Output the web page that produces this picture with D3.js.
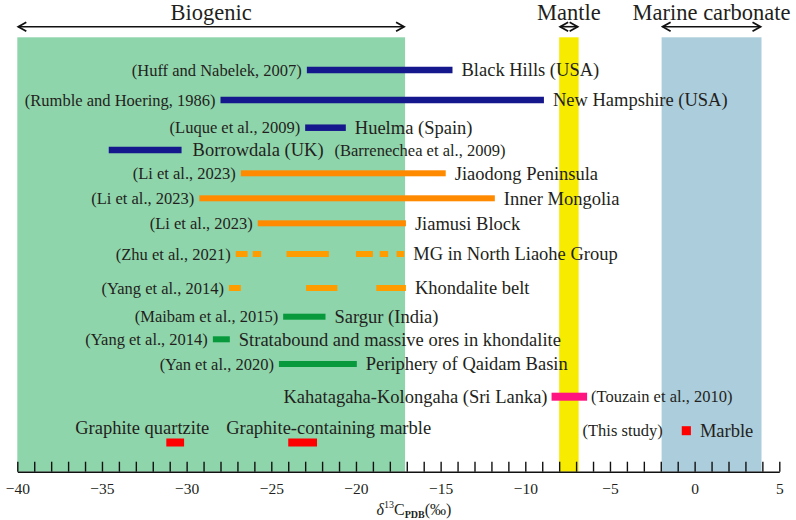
<!DOCTYPE html>
<html>
<head>
<meta charset="utf-8">
<script src="https://cdn.jsdelivr.net/npm/d3@7"></script>
<style>
  body { margin: 0; background: #fff; }
  svg { display: block; }
  svg text { font-family: "Liberation Serif", "Times New Roman", Times, "DejaVu Serif", serif; fill: #231f20; }
</style>
</head>
<body>
<div id="chart"></div>
<script>
// δ13C ranges (‰, PDB) of graphite deposits
const locations = [
    "Black Hills (USA)", "New Hampshire (USA)", "Huelma (Spain)", "Borrowdala (UK)",
    "Jiaodong Peninsula", "Inner Mongolia", "Jiamusi Block", "MG in North Liaohe Group",
    "Khondalite belt", "Sargur (India)", "Stratabound and massive ores in khondalite",
    "Periphery of Qaidam Basin", "Kahatagaha-Kolongaha (Sri Lanka)",
    "Graphite quartzite", "Graphite-containing marble", "Marble"
];
const citations = [
    "(Huff and Nabelek, 2007)", "(Rumble and Hoering, 1986)", "(Luque et al., 2009)",
    "(Barrenechea et al., 2009)", "(Li et al., 2023)", "(Li et al., 2023)", "(Li et al., 2023)",
    "(Zhu et al., 2021)", "(Yang et al., 2014)", "(Maibam et al., 2015)", "(Yang et al., 2014)",
    "(Yan et al., 2020)", "(Touzain et al., 2010)", "", "", "(This study)"
];
const groups = [
    "blue", "blue", "blue", "blue",
    "orange", "orange", "orange", "orange2", "orange2",
    "green", "green", "green", "pink",
    "red", "red", "red"
];
const ranges = [
    [[-22.9, -14.3]],
    [[-28.0, -8.9]],
    [[-23.0, -20.6]],
    [[-34.6, -30.3]],
    [[-26.8, -14.7]],
    [[-29.25, -11.8]],
    [[-25.8, -17.05]],
    [[-27.1, -26.4], [-26.1, -25.6], [-24.1, -21.6], [-20.0, -19.0], [-18.6, -18.1], [-17.6, -17.15]],
    [[-27.5, -26.8], [-22.95, -21.1], [-18.8, -17.05]],
    [[-24.3, -21.8]],
    [[-28.45, -27.45]],
    [[-24.55, -19.95]],
    [[-8.45, -6.35]],
    [[-31.2, -30.15]],
    [[-24.0, -22.3]],
    [[-0.76, -0.22]]
];

const zoneNames = ["Biogenic", "Mantle", "Marine carbonate"];
const zoneRanges = [[-40, -17.1], [-8, -6.85], [-1.95, 3.95]];
const xTicks = d3.range(-40, 6, 1);

// layout
const W = 796, H = 520;
const axisY = 471.7, bandTop = 37.3;
const serif = "'Liberation Serif', 'Times New Roman', Times, 'DejaVu Serif', serif";
const colors = {
    blue: "#15178c", orange: "#ff8a00", orange2: "#ff9c00",
    green: "#07993b", pink: "#ff1480", red: "#ff0000"
};
const barH = { blue: 6.5, orange: 6, orange2: 6, green: 6, pink: 8, red: 8 };
const zoneColors = ["#8fd5ab", "#f7ec00", "#abcddc"];

const x = d3.scaleLinear().domain([-40, 5]).range([17.3, 779.3]);
const y = d3.scaleOrdinal()
    .domain(d3.range(locations.length))
    .range([70, 100, 127.7, 150, 173.3, 198.3, 223.3, 254, 288, 316.7, 339.3, 364, 396.7, 442.5, 442.5, 430.7]);

const svg = d3.select("#chart").append("svg")
    .attr("width", W)
    .attr("height", H)
    .attr("font-family", serif);

// zone bands
svg.append("g").selectAll("rect")
    .data(zoneRanges)
    .join("rect")
    .attr("x", d => x(d[0]))
    .attr("width", d => x(d[1]) - x(d[0]))
    .attr("y", bandTop)
    .attr("height", axisY - bandTop)
    .attr("fill", (d, i) => zoneColors[i]);

// zone titles with double arrows
const defs = svg.append("defs");
defs.append("marker")
    .attr("id", "chev")
    .attr("viewBox", "-10 -6 12 12")
    .attr("refX", 0).attr("refY", 0)
    .attr("markerWidth", 12).attr("markerHeight", 12)
    .attr("markerUnits", "userSpaceOnUse")
    .attr("orient", "auto-start-reverse")
    .append("path")
    .attr("d", "M-8,-4.5L0,0L-8,4.5")
    .attr("fill", "none")
    .attr("stroke", "#111")
    .attr("stroke-width", 1.8);

const zones = svg.append("g").selectAll("g")
    .data(zoneRanges)
    .join("g");
zones.append("line")
    .attr("x1", d => x(d[0]) + 1)
    .attr("x2", d => x(d[1]) - 1)
    .attr("y1", 26.7).attr("y2", 26.7)
    .attr("stroke", "#111")
    .attr("stroke-width", 1.6)
    .attr("marker-start", "url(#chev)")
    .attr("marker-end", "url(#chev)");
zones.append("text")
    .attr("x", d => (x(d[0]) + x(d[1])) / 2)
    .attr("y", 19.5)
    .attr("text-anchor", "middle")
    .attr("font-size", 22.5)
    .text((d, i) => zoneNames[i]);

// bars
const segments = ranges.flatMap((r, i) => r.map(s => ({ i, lo: s[0], hi: s[1], grp: groups[i] })));
svg.append("g").selectAll("rect")
    .data(segments)
    .join("rect")
    .attr("x", d => x(d.lo))
    .attr("width", d => x(d.hi) - x(d.lo))
    .attr("y", d => y(d.i) - (d.i === 15 ? 4.5 : barH[d.grp] / 2))
    .attr("height", d => d.i === 15 ? 9 : barH[d.grp])
    .attr("fill", d => colors[d.grp]);

// labels
const nameSize = 18.5, citeSize = 16.5;
const labels = svg.append("g");
locations.forEach((name, i) => {
    const lo = d3.min(ranges[i], s => s[0]);
    const hi = d3.max(ranges[i], s => s[1]);
    const yc = y(i);
    if (i === 3) {
        const t = labels.append("text").attr("x", x(hi) + 11).attr("y", yc).attr("dy", "0.35em")
            .attr("font-size", nameSize);
        t.append("tspan").text(name);
        t.append("tspan").attr("dx", 11).attr("font-size", citeSize).text(citations[i]);
    } else if (i === 12) {
        labels.append("text").attr("x", x(lo) - 4).attr("y", yc).attr("dy", "0.35em")
            .attr("text-anchor", "end").attr("font-size", nameSize).text(name);
        labels.append("text").attr("x", x(hi) + 4).attr("y", yc).attr("dy", "0.35em")
            .attr("font-size", citeSize).text(citations[i]);
    } else if (i === 13 || i === 14) {
        labels.append("text").attr("x", (x(lo) + x(hi)) / 2 + (i === 13 ? -33 : 26))
            .attr("y", 428).attr("dy", "0.35em")
            .attr("text-anchor", "middle").attr("font-size", nameSize).text(name);
    } else {
        const gap = i === 15 ? 19 : 5;
        labels.append("text").attr("x", x(lo) - gap).attr("y", yc).attr("dy", "0.35em")
            .attr("text-anchor", "end").attr("font-size", citeSize).text(citations[i]);
        labels.append("text").attr("x", x(hi) + 9).attr("y", yc).attr("dy", "0.35em")
            .attr("font-size", nameSize).text(name);
    }
});

// x axis, ticks pointing up, labels every 5
const axis = d3.axisBottom(x)
    .tickValues(xTicks)
    .tickSize(-10)
    .tickSizeOuter(0)
    .tickPadding(11)
    .tickFormat(d => d % 5 === 0 ? d3.format("d")(d) : "");

svg.append("g")
    .attr("transform", `translate(0,${axisY})`)
    .call(axis)
    .attr("font-family", serif)
    .attr("font-size", 15.5)
    .call(g => g.select(".domain").attr("stroke", "#111").attr("stroke-width", 1.6))
    .call(g => g.selectAll(".tick line").attr("stroke", "#111").attr("stroke-width", 1.4))
    .call(g => g.selectAll(".tick text").attr("fill", "#231f20"));

const title = svg.append("text")
    .attr("x", 414).attr("y", 515)
    .attr("text-anchor", "middle")
    .attr("font-size", 16);
title.append("tspan").attr("font-style", "italic").text("δ");
title.append("tspan").attr("font-size", 10).attr("dy", -7).text("13");
title.append("tspan").attr("dy", 7).text("C");
title.append("tspan").attr("font-size", 10).attr("font-weight", "bold").attr("dy", 3).text("PDB");
title.append("tspan").attr("dy", -3).text("(‰)");
</script>
</body>
</html>
